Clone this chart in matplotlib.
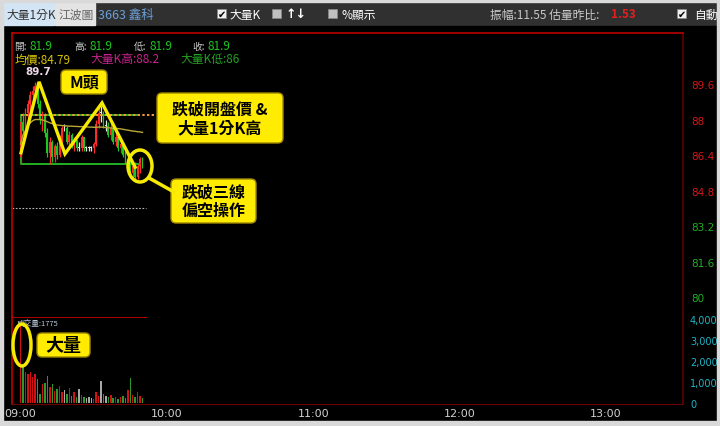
import numpy as np
import matplotlib.pyplot as plt
from matplotlib.patches import FancyBboxPatch, Ellipse, Rectangle

plt.rcParams['font.family'] = ['Noto Sans CJK TC', 'DejaVu Sans']

W, H = 720, 427

# 1-minute bars from 09:00 (minute index)
minutes = np.arange(51)
opens = [86.3, 87.9, 87.5, 88.3, 88.7, 89.1, 89.3, 89.5, 88.7, 88.0,
         88.2, 87.4, 86.5, 87.0, 86.3, 86.8, 86.4, 87.1, 87.6, 87.6,
         87.0, 87.3, 86.8, 87.1, 86.7, 86.7, 87.2, 86.7, 86.7, 86.7,
         86.7, 86.9, 87.8, 88.3, 88.3, 87.7, 87.7, 87.3, 87.6, 87.0,
         87.2, 86.7, 86.9, 86.4, 86.1, 86.2, 85.6, 85.9, 85.4, 85.9, 86.2]
highs = [88.2, 88.3, 88.5, 88.9, 89.3, 89.5, 89.7, 89.6, 88.9, 88.4,
         88.3, 87.6, 87.2, 87.1, 86.9, 87.0, 87.3, 87.7, 87.8, 87.7,
         87.5, 87.4, 87.2, 87.1, 87.0, 87.3, 87.2, 86.8, 86.8, 86.8,
         87.0, 88.0, 88.5, 88.6, 88.4, 88.0, 87.9, 87.8, 87.7, 87.4,
         87.3, 87.1, 87.0, 86.6, 86.4, 86.3, 86.0, 86.1, 86.0, 86.3, 86.3]
lows = [86.0, 87.3, 87.4, 88.0, 88.4, 88.7, 88.9, 88.5, 87.8, 87.5,
        87.2, 86.3, 86.0, 86.1, 86.1, 86.2, 86.3, 86.9, 87.5, 86.9,
        86.8, 86.7, 86.6, 86.6, 86.6, 86.6, 86.6, 86.6, 86.6, 86.6,
        86.5, 86.8, 87.6, 87.9, 87.6, 87.5, 87.2, 87.1, 86.9, 86.8,
        86.6, 86.5, 86.3, 86.0, 85.8, 85.5, 85.3, 85.2, 85.3, 85.6, 85.8]
closes = [87.9, 87.5, 88.3, 88.7, 89.1, 89.3, 89.5, 88.7, 88.0, 88.2,
          87.4, 86.5, 87.0, 86.3, 86.8, 86.4, 87.1, 87.6, 87.6, 87.0,
          87.3, 86.8, 87.1, 86.7, 86.7, 87.2, 86.7, 86.7, 86.7, 86.7,
          86.9, 87.8, 88.3, 88.3, 87.7, 87.7, 87.3, 87.6, 87.0, 87.2,
          86.7, 86.9, 86.4, 86.1, 86.2, 85.6, 85.9, 85.4, 85.9, 86.2, 85.9]
avg_price = [86.9, 87.3, 87.5, 87.7, 87.85, 87.95, 88.0, 88.0, 88.0, 87.98,
             87.95, 87.9, 87.85, 87.82, 87.78, 87.75, 87.74, 87.73, 87.72, 87.71,
             87.7, 87.7, 87.69, 87.69, 87.68, 87.68, 87.67, 87.67, 87.66, 87.66,
             87.65, 87.65, 87.66, 87.66, 87.65, 87.64, 87.63, 87.62, 87.61, 87.6,
             87.59, 87.58, 87.56, 87.54, 87.52, 87.5, 87.48, 87.47, 87.45, 87.44, 87.42]
volumes = [3750, 1700, 1500, 1400, 1500, 1250, 1400, 1150, 450, 900,
           950, 1300, 750, 900, 550, 650, 800, 500, 600, 450,
           700, 350, 500, 300, 650, 400, 300, 250, 300, 250,
           200, 500, 350, 1050, 450, 350, 300, 400, 250, 300,
           200, 300, 350, 250, 600, 1200, 400, 300, 500, 350, 250]

ref_price = 84.0
big_k_high = 88.2
big_k_low = 86.0

price_ticks = [80, 81.6, 83.2, 84.8, 86.4, 88, 89.6]
volume_ticks = [0, 1000, 2000, 3000, 4000]
time_ticks = [0, 60, 120, 180, 240]
time_labels = ['09:00', '10:00', '11:00', '12:00', '13:00']

# hand-drawn "M" pattern annotation (minute, price)
m_line_x = [0.2, 7.6, 18.2, 33.4, 47.0]
m_line_y = [86.5, 89.7, 86.45, 88.75, 85.85]

RED = '#ff2a2a'
GREEN = '#1fc41f'
WHITE = '#e6e6e6'
YEL = '#f6ea00'


def fig_rect(x0, y0, x1, y1):
    # pixel box (top-left origin) -> figure fraction [l, b, w, h]
    return [x0 / W, 1 - y1 / H, (x1 - x0) / W, (y1 - y0) / H]


fig = plt.figure(figsize=(W / 100, H / 100), dpi=100, facecolor='#d9d9d9')

# ---- background / toolbar in pixel coordinates
bg = fig.add_axes([0, 0, 1, 1], zorder=0)
bg.set_xlim(0, W)
bg.set_ylim(H, 0)
bg.axis('off')
bg.add_patch(Rectangle((3, 3), 714, 24, color='#303030'))
bg.add_patch(Rectangle((3, 27), 714, 395, color='black'))
bg.add_patch(Rectangle((3, 4), 51, 22, color='#d3e5f4'))
bg.add_patch(Rectangle((55, 4), 40, 22, color='#e4e4e4'))
bg.text(6, 15, '大量1分K', color='#333333', fontsize=8.5, va='center')
bg.text(58, 15, '江波圖', color='#666666', fontsize=8.5, va='center')
bg.text(98, 15, '3663 鑫科', color='#6b9fd9', fontsize=9, va='center')


def checkbox(x, checked):
    bg.add_patch(Rectangle((x, 10), 9, 9, facecolor='#f0f0f0' if checked else '#c0c0c0',
                           edgecolor='#888888', lw=0.5))
    if checked:
        bg.text(x + 4.5, 14.8, '✔', color='black', fontsize=7, ha='center', va='center',
                family='DejaVu Sans')


checkbox(217, True)
bg.text(229, 15, '大量K', color='white', fontsize=8.5, va='center')
checkbox(272, False)
bg.text(286, 15, '↑↓', color='white', fontsize=9, va='center', weight='bold',
        family='DejaVu Sans')
checkbox(328, False)
bg.text(341, 15, '%顯示', color='white', fontsize=8.5, va='center')
bg.text(490, 15, '振幅:11.55 估量昨比:', color='#c8c8c8', fontsize=8.5, va='center')
bg.text(611, 15, '1.53', color='#e02020', fontsize=8.5, va='center', weight='bold')
checkbox(677, True)
bg.text(694, 15, '自動', color='white', fontsize=8.5, va='center')

# header rows inside chart
hdr_labels = [('開:', 14), ('高:', 74), ('低:', 134), ('收:', 192)]
hdr_values = [('81.9', 29), ('81.9', 89), ('81.9', 149), ('81.9', 207)]
for s, x in hdr_labels:
    bg.text(x, 47, s, color='#c8c8c8', fontsize=7, va='center')
for s, x in hdr_values:
    bg.text(x, 47, s, color=GREEN, fontsize=8.5, va='center')
bg.text(15, 60, '均價:84.79', color='#d9c400', fontsize=8.5, va='center')
bg.text(90, 60, '大量K高:88.2', color='#c8228c', fontsize=8.5, va='center')
bg.text(180, 60, '大量K低:86', color='#22a022', fontsize=8.5, va='center')
bg.text(17, 324, '成交量:1775', color='#b8c8d8', fontsize=5.5, va='center')

# ---- price panel
xmin, xmax = -3.5, 271.6
ax = fig.add_axes(fig_rect(12, 34, 683, 318), zorder=1)
ax.set_facecolor('none')
ax.set_xlim(xmin, xmax)
ax.set_ylim(79.1, 91.9)

o = np.array(opens)
c = np.array(closes)
cols = np.where(c > o, RED, np.where(c < o, GREEN, WHITE))
body = np.maximum(np.abs(c - o), 0.04)
ax.vlines(minutes, lows, highs, colors=cols, lw=0.9, zorder=2)
ax.bar(minutes, body, bottom=np.minimum(o, c), width=0.75, color=cols, zorder=2)
ax.plot(minutes, avg_price, color='#b8a838', lw=1.0, zorder=3)

last = minutes[-1]
ax.hlines(ref_price, xmin, last + 1.5, colors='#bbbbbb', linestyles=(0, (1.5, 1.5)), lw=0.8)
ax.plot([0, 0, last - 2], [big_k_high, big_k_low, big_k_low], color='#23b023', lw=1.4, zorder=1)
ax.hlines(big_k_high, 0, last - 2, colors='#23b023', lw=1.4, zorder=1)
ax.hlines(big_k_high, 0, 55, colors='#ff9a30', linestyles=(0, (1.2, 1.2)), lw=1.4, zorder=4)
ax.plot(m_line_x, m_line_y, color=YEL, lw=2.4, zorder=5, solid_joinstyle='miter')
ax.text(m_line_x[1] - 0.5, max(highs) + 0.25, f'{max(highs):g}', color='#eed8e6', fontsize=7.5,
        weight='bold', ha='center', va='bottom', family='DejaVu Sans')

ax.set_xticks([])
ax.yaxis.tick_right()
ax.set_yticks(price_ticks, labels=[f'{t:g}' for t in price_ticks])
ax.tick_params(axis='y', length=0, pad=6, labelsize=7.5, labelfontfamily='DejaVu Sans')
for lab, t in zip(ax.get_yticklabels(), price_ticks):
    lab.set_color('#d41818' if t > ref_price else '#22b022')
ax.spines['bottom'].set_visible(False)
ax.spines['top'].set_color('#b00000')
ax.spines['left'].set_color('#b00000')
ax.spines['right'].set_color('#5a0000')
for s in ('top', 'left', 'right'):
    ax.spines[s].set_linewidth(1.3)

# ---- volume panel
av = fig.add_axes(fig_rect(12, 318, 683, 405), zorder=1)
av.set_facecolor('none')
av.set_xlim(xmin, xmax)
av.set_ylim(-50, 4100)
vcols = np.where(c > o, '#d41010', np.where(c < o, '#2a9a2a', '#a8a8a8'))
av.bar(minutes, volumes, width=0.6, color=vcols)
av.axhline(4100, xmin=0, xmax=(last + 1.5 - xmin) / (xmax - xmin), color='#c00000', lw=1.3)
av.yaxis.tick_right()
av.set_yticks(volume_ticks, labels=[f'{t:,}' for t in volume_ticks])
av.set_xticks(time_ticks, labels=time_labels)
av.tick_params(axis='y', length=0, pad=5, labelsize=7, labelcolor='#22b4c4',
               labelfontfamily='DejaVu Sans')
av.tick_params(axis='x', length=0, pad=3, labelsize=8, labelcolor='#d0d0d0',
               labelfontfamily='DejaVu Sans')
av.spines['top'].set_visible(False)
av.spines['left'].set_color('#b00000')
av.spines['left'].set_linewidth(1.3)
av.spines['right'].set_color('#5a0000')
av.spines['right'].set_linewidth(1.3)
av.spines['bottom'].set_color('#6a0000')

# ---- overlay: callouts and outer border
ov = fig.add_axes([0, 0, 1, 1], zorder=5)
ov.set_xlim(0, W)
ov.set_ylim(H, 0)
ov.axis('off')


def callout(x0, y0, x1, y1, text, size):
    ov.add_patch(FancyBboxPatch((x0, y0), x1 - x0, y1 - y0,
                                boxstyle='round,pad=0,rounding_size=5',
                                facecolor='#ffec00', edgecolor='#a08800', lw=1))
    ov.text((x0 + x1) / 2, (y0 + y1) / 2, text, color='black', fontsize=size,
            ha='center', va='center', weight='bold', linespacing=1.2)


callout(61, 71, 107, 95, 'M頭', 11.5)
callout(157, 94, 283, 144, '跌破開盤價 &\n大量1分K高', 11.5)
callout(171, 180, 256, 224, '跌破三線\n偏空操作', 11.5)
callout(37, 334, 90, 358, '大量', 13)

ov.add_patch(Ellipse((140, 167), 24, 32, fill=False, edgecolor=YEL, lw=2.5))
ov.plot([149, 174], [179, 193], color=YEL, lw=2.5)
ov.add_patch(Ellipse((22, 346), 18, 42, fill=False, edgecolor=YEL, lw=2.5))

for r in [(0, 0, W, 3), (0, 422, W, 5), (0, 0, 3, H), (717, 0, 3, H)]:
    ov.add_patch(Rectangle((r[0], r[1]), r[2], r[3], color='#d9d9d9'))

fig.savefig('out.png', dpi=100, facecolor=fig.get_facecolor())
